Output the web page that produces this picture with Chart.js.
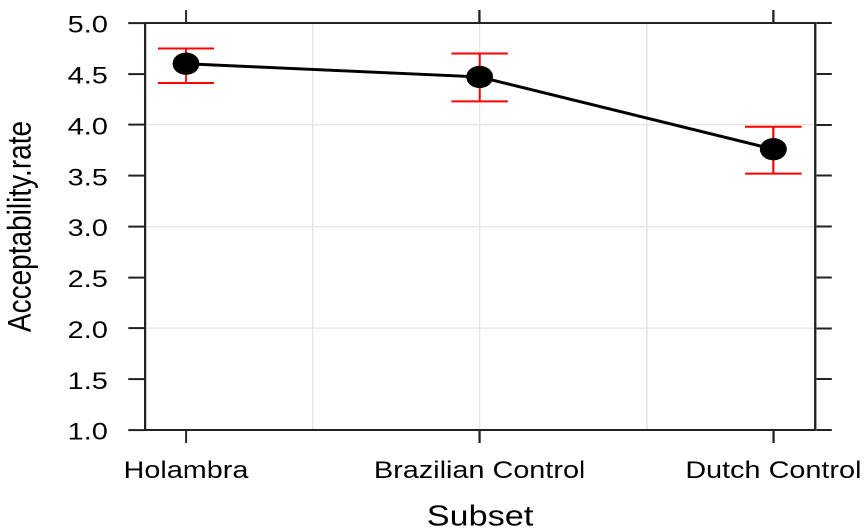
<!DOCTYPE html>
<html><head><meta charset="utf-8">
<script src="https://cdn.jsdelivr.net/npm/chart.js@4/dist/chart.umd.min.js"></script>
<style>
html,body{margin:0;padding:0;background:#fff;overflow:hidden;width:866px;height:532px}
#wrap{position:absolute;left:0;top:0;width:722px;height:532px;transform:scaleX(1.2);transform-origin:0 0}
</style></head><body>
<div id="wrap"><canvas id="c"></canvas></div>
<script>
// ---- data ----
const categories = ['Holambra', 'Brazilian Control', 'Dutch Control'];
const acceptability = [4.60, 4.47, 3.76];
const upperCI = [4.75, 4.70, 3.98];
const lowerCI = [4.41, 4.23, 3.52];
const yTicks = [1.0, 1.5, 2.0, 2.5, 3.0, 3.5, 4.0, 4.5, 5.0];
const yGrid = [1, 2, 3, 4, 5];
const xGrid = [1.432, 2, 2.570];
const xMin = 0.8604, xMax = 3.142;

// ---- styles ----
const DARK = '#222222';
const GRID = '#e6e6e6';
Chart.defaults.font.family = "'Liberation Sans', Arial, sans-serif";

const catIdx = categories.map((c, i) => i + 1);

const errorBars = {
  id: 'errorBars',
  beforeDatasetsDraw(chart) {
    const { ctx, scales: { x, y } } = chart;
    ctx.save();
    ctx.strokeStyle = '#ff0000';
    catIdx.forEach((v, i) => {
      const px = x.getPixelForValue(v);
      const yHi = y.getPixelForValue(upperCI[i]);
      const yLo = y.getPixelForValue(lowerCI[i]);
      ctx.lineWidth = 1.7;
      ctx.beginPath(); ctx.moveTo(px, yHi); ctx.lineTo(px, yLo); ctx.stroke();
      ctx.lineWidth = 2;
      ctx.beginPath();
      ctx.moveTo(px - 23.5, yHi); ctx.lineTo(px + 23.5, yHi);
      ctx.moveTo(px - 23.5, yLo); ctx.lineTo(px + 23.5, yLo);
      ctx.stroke();
    });
    ctx.restore();
  }
};

new Chart(document.getElementById('c'), {
  type: 'line',
  data: {
    datasets: [{
      data: catIdx.map((v, i) => ({ x: v, y: acceptability[i] })),
      borderColor: '#000', borderWidth: 3, tension: 0,
      pointRadius: 11.2, pointBackgroundColor: '#000', pointBorderWidth: 0,
      pointHoverRadius: 11.2
    }]
  },
  options: {
    responsive: true, maintainAspectRatio: false, devicePixelRatio: 2, animation: false,
    layout: { padding: 0 },
    plugins: { legend: { display: false }, tooltip: { enabled: false } },
    scales: {
      x: {
        type: 'linear', position: 'bottom', min: xMin, max: xMax,
        afterBuildTicks: s => { s.ticks = [...new Set([...catIdx, ...xGrid])].sort((a, b) => a - b).map(v => ({ value: v })); },
        ticks: {
          autoSkip: false, maxRotation: 0, minRotation: 0, padding: 14, color: '#000',
          font: { size: 24 },
          callback: v => (catIdx.includes(v) ? categories[v - 1] : '')
        },
        grid: {
          color: c => (c.tick && xGrid.includes(c.tick.value) ? GRID : 'rgba(0,0,0,0)'),
          tickColor: c => (c.tick && catIdx.includes(c.tick.value) ? DARK : 'rgba(0,0,0,0)'),
          tickLength: 13, tickWidth: 1.8, lineWidth: 1.2
        },
        border: { display: true, color: DARK, width: 2 },
        title: { display: true, text: 'Subset', color: '#000', font: { size: 28.5, lineHeight: 1 }, padding: { top: 0, bottom: 0 } },
        afterFit: s => { s.height = 102; s.paddingLeft = 0; s.paddingRight = 0; }
      },
      x2: {
        type: 'linear', position: 'top', min: xMin, max: xMax,
        afterBuildTicks: s => { s.ticks = catIdx.map(v => ({ value: v })); },
        ticks: { display: false },
        grid: { drawOnChartArea: false, color: 'rgba(0,0,0,0)', tickColor: DARK, tickLength: 13, tickWidth: 1.8 },
        border: { display: true, color: DARK, width: 2 },
        afterFit: s => { s.height = 23; s.paddingLeft = 0; s.paddingRight = 0; }
      },
      y: {
        type: 'linear', position: 'left', min: 1, max: 5,
        afterBuildTicks: s => { s.ticks = yTicks.map(v => ({ value: v })); },
        ticks: { padding: 17, labelOffset: 3, color: '#000', font: { size: 24 }, callback: v => v.toFixed(1) },
        grid: {
          color: c => (c.tick && yGrid.includes(c.tick.value) ? GRID : 'rgba(0,0,0,0)'),
          tickColor: DARK, tickLength: 14, tickWidth: 2, lineWidth: 1.2
        },
        border: { display: true, color: DARK, width: 1.8 },
        title: { display: true, text: 'Acceptability.rate', color: '#000', font: { size: 28, lineHeight: 1 }, padding: { top: 4, bottom: 0 } },
        afterFit: s => { s.width = 120.8; s.paddingTop = 0; s.paddingBottom = 0; }
      },
      y2: {
        type: 'linear', position: 'right', min: 1, max: 5,
        afterBuildTicks: s => { s.ticks = yTicks.map(v => ({ value: v })); },
        ticks: { display: false },
        grid: { drawOnChartArea: false, color: 'rgba(0,0,0,0)', tickColor: DARK, tickLength: 14, tickWidth: 2 },
        border: { display: true, color: DARK, width: 1.8 },
        afterFit: s => { s.width = 42.8; s.paddingTop = 0; s.paddingBottom = 0; }
      }
    }
  },
  plugins: [errorBars]
});
</script>
</body></html>
